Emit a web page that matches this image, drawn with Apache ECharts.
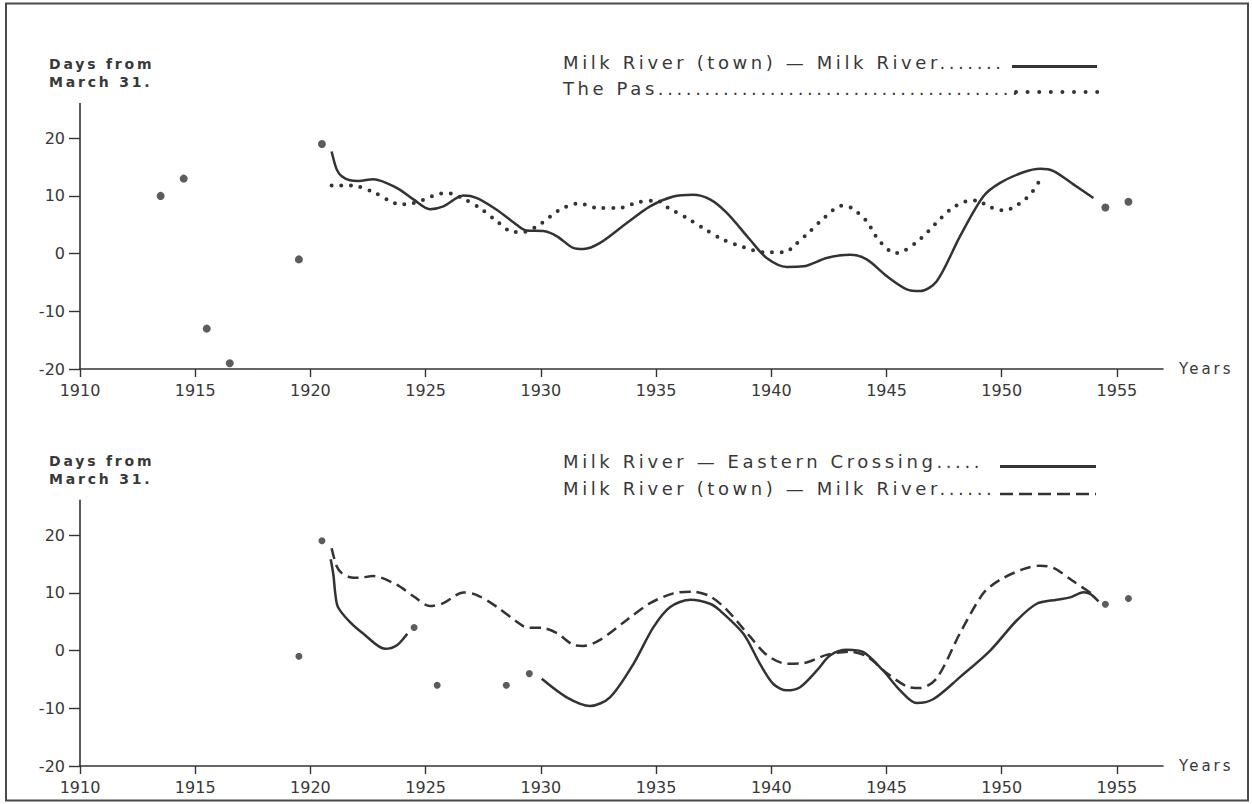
<!DOCTYPE html>
<html>
<head>
<meta charset="utf-8">
<script src="https://cdn.jsdelivr.net/npm/echarts@6.0.0/dist/echarts.min.js"></script>
<style>
html,body{margin:0;padding:0;background:#ffffff;}
#chart{width:1252px;height:804px;}
#chart svg text[style*="Verdana"]{letter-spacing:0.2em;}
</style>
</head>
<body>
<div id="chart"></div>
<script>
// ---- tick values ----
const xTickValues = [1910, 1915, 1920, 1925, 1930, 1935, 1940, 1945, 1950, 1955];
const yTickValues = [-20, -10, 0, 10, 20];

// ---- top panel: individual years (days from March 31) ----
const topYearPoints = [
  [1913.5, 10], [1914.5, 13], [1915.5, -13], [1916.5, -19],
  [1919.5, -1], [1920.5, 19], [1954.5, 8], [1955.5, 9]
];

// ---- Milk River (town) — Milk River (smoothed curve) ----
const milkTownCurve = [
  [1920.92, 17.7], [1921.14, 14.6], [1921.36, 13.4], [1921.72, 12.7], [1922.1, 12.6],
  [1922.73, 12.9], [1923.74, 11.4], [1924.47, 9.4], [1925.19, 7.7], [1925.77, 8.2],
  [1926.64, 10.05], [1927.2, 9.65], [1928.08, 7.6], [1928.95, 5.0], [1929.38, 4.0],
  [1930.1, 3.9], [1930.7, 3.0], [1931.4, 1.0], [1931.85, 0.8], [1932.57, 1.85],
  [1933.73, 5.3], [1934.74, 8.2], [1935.75, 9.9], [1936.6, 10.2], [1937.34, 9.4],
  [1938.07, 7.05], [1939.08, 2.4], [1939.8, -0.75], [1940.67, -2.3], [1941.4, -2.2],
  [1942.4, -0.75], [1943.42, -0.2], [1944.14, -1.0], [1945.01, -3.9], [1945.88, -6.2],
  [1946.46, -6.5], [1947.18, -4.8], [1948.19, 3.0], [1949.2, 9.9], [1949.93, 12.25],
  [1950.94, 14.1], [1951.67, 14.7], [1952.25, 14.3], [1953.11, 12.0], [1953.98, 9.65]
];

// ---- The Pas (smoothed curve) ----
const thePasCurve = [
  [1920.92, 11.8], [1921.79, 11.8], [1922.66, 10.8], [1923.45, 9.1], [1923.89, 8.5],
  [1924.39, 8.7], [1924.83, 9.2], [1925.7, 10.4], [1926.13, 10.4], [1926.57, 9.65],
  [1927.36, 7.9], [1928.0, 5.9], [1928.81, 3.76], [1929.24, 3.76], [1930.04, 5.3],
  [1930.76, 7.45], [1931.63, 8.7], [1932.5, 7.9], [1933.36, 7.9], [1934.23, 8.9],
  [1935.03, 9.2], [1935.53, 7.9], [1936.33, 6.2], [1937.13, 4.2], [1937.92, 2.4],
  [1938.79, 1.15], [1939.66, 0.23], [1940.6, 0.23], [1940.96, 1.27], [1941.68, 3.87],
  [1942.34, 6.36], [1943.06, 8.3], [1943.49, 7.9], [1944.14, 5.6], [1944.65, 2.4],
  [1945.37, 0.1], [1945.73, 0.4], [1946.46, 2.5], [1947.11, 5.1], [1947.76, 7.6],
  [1948.48, 9.1], [1948.99, 9.2], [1949.35, 8.3], [1950.15, 7.45], [1950.58, 8.2],
  [1951.0, 9.36], [1951.35, 10.8], [1951.6, 12.36]
];

// ---- bottom panel: individual years ----
const bottomYearPoints = [
  [1919.5, -1], [1920.5, 19], [1924.5, 4], [1925.5, -6],
  [1928.5, -6], [1929.5, -4], [1954.5, 8], [1955.5, 9]
];

// ---- Milk River — Eastern Crossing (two smoothed pieces) ----
const easternCrossingEarly = [
  [1920.88, 15.8], [1921.0, 13.0], [1921.08, 9.8], [1921.2, 7.5], [1921.72, 4.9],
  [1922.3, 2.9], [1923.24, 0.3], [1923.74, 0.87], [1924.2, 2.9]
];
const easternCrossingLate = [
  [1930.04, -4.9], [1931.12, -8.1], [1932.14, -9.6], [1933.0, -8.1], [1934.02, -2.3],
  [1934.88, 4.0], [1935.6, 7.5], [1936.5, 8.8], [1937.34, 8.1], [1937.78, 6.9],
  [1938.79, 2.9], [1939.51, -2.3], [1940.09, -5.8], [1940.67, -6.9], [1941.25, -6.35],
  [1941.97, -3.5], [1942.55, -0.87], [1943.28, 0.12], [1944.0, -0.29], [1944.86, -3.5],
  [1945.59, -6.9], [1946.31, -9.1], [1947.04, -8.4], [1948.19, -4.6], [1949.5, 0],
  [1950.65, 5.2], [1951.52, 8.1], [1952.39, 8.8], [1952.97, 9.2], [1953.55, 10.1],
  [1953.84, 9.8], [1954.2, 8.5]
];

// ---- texts ----
const yAxisTitle = 'Days from\nMarch 31.';
const xAxisTitle = 'Years';
const topLegend = ['Milk River (town) — Milk River.......', 'The Pas.......................................'];
const bottomLegend = ['Milk River — Eastern Crossing.....', 'Milk River (town) — Milk River......'];

const INK = '#333333';
const TEXT = '#383838';
const SPACED = "Verdana, 'DejaVu Sans'";
const PLAIN = "'DejaVu Sans'";

function makeX(gridIndex) {
  return {
    type: 'value', gridIndex, min: 1910, max: 1957, interval: 5,
    name: xAxisTitle, nameLocation: 'end', nameGap: 16,
    nameTextStyle: { fontFamily: SPACED, fontSize: 15, color: TEXT, verticalAlign: 'middle' },
    axisLine: { show: true, onZero: false, lineStyle: { color: INK, width: 1.6 } },
    axisTick: { show: true, inside: false, length: 8, customValues: xTickValues, lineStyle: { color: INK, width: 1.4 } },
    axisLabel: { customValues: xTickValues, margin: 13, fontFamily: PLAIN, fontSize: 16, color: TEXT,
      formatter: v => String(v) },
    splitLine: { show: false }, minorTick: { show: false }
  };
}
function makeY(gridIndex) {
  return {
    type: 'value', gridIndex, min: -20, max: 26, interval: 10,
    axisLine: { show: true, onZero: false, lineStyle: { color: INK, width: 1.6 } },
    axisTick: { show: true, inside: false, length: 11, customValues: yTickValues, lineStyle: { color: INK, width: 1.4 } },
    axisLabel: { customValues: yTickValues, margin: 15, fontFamily: PLAIN, fontSize: 16, color: TEXT,
      formatter: v => String(v) },
    splitLine: { show: false }
  };
}

const chart = echarts.init(document.getElementById('chart'), null, { renderer: 'svg' });
const option = {
  animation: false,
  backgroundColor: '#ffffff',
  grid: [
    { left: 80, top: 103.6, width: 1083, height: 265.4 },
    { left: 80, top: 500.4, width: 1083, height: 265.6 }
  ],
  xAxis: [makeX(0), makeX(1)],
  yAxis: [makeY(0), makeY(1)],
  series: [
    { type: 'scatter', xAxisIndex: 0, yAxisIndex: 0, data: topYearPoints, symbol: 'circle', symbolSize: 8, itemStyle: { color: INK } },
    { type: 'line', xAxisIndex: 0, yAxisIndex: 0, data: milkTownCurve, smooth: 0.3, showSymbol: false,
      lineStyle: { color: INK, width: 2.5 } },
    { type: 'line', xAxisIndex: 0, yAxisIndex: 0, data: thePasCurve, smooth: 0.3, showSymbol: false,
      lineStyle: { color: INK, width: 4, type: [0, 9.6], cap: 'round' } },
    { type: 'scatter', xAxisIndex: 1, yAxisIndex: 1, data: bottomYearPoints, symbol: 'circle', symbolSize: 7, itemStyle: { color: INK } },
    { type: 'line', xAxisIndex: 1, yAxisIndex: 1, data: milkTownCurve, smooth: 0.3, showSymbol: false,
      lineStyle: { color: INK, width: 2.5, type: [11, 6] } },
    { type: 'line', xAxisIndex: 1, yAxisIndex: 1, data: easternCrossingEarly, smooth: 0.3, showSymbol: false,
      lineStyle: { color: INK, width: 2.5 } },
    { type: 'line', xAxisIndex: 1, yAxisIndex: 1, data: easternCrossingLate, smooth: 0.3, showSymbol: false,
      lineStyle: { color: INK, width: 2.5 } }
  ],
  graphic: [
    { type: 'rect', shape: { x: 6, y: 3.5, width: 1242, height: 797 }, style: { fill: 'none', stroke: '#4a4a4a', lineWidth: 2 }, silent: true },
    { type: 'text', x: 49, y: 55, style: { text: yAxisTitle, fontFamily: SPACED, fontSize: 14, lineHeight: 18, fill: TEXT, fontWeight: 600 } },
    { type: 'text', x: 49, y: 452, style: { text: yAxisTitle, fontFamily: SPACED, fontSize: 14, lineHeight: 18, fill: TEXT, fontWeight: 600 } },
    { type: 'text', x: 563, y: 62, style: { text: topLegend[0], fontFamily: SPACED, fontSize: 18, fill: TEXT, verticalAlign: 'middle' } },
    { type: 'text', x: 563, y: 88, style: { text: topLegend[1], fontFamily: SPACED, fontSize: 18, fill: TEXT, verticalAlign: 'middle' } },
    { type: 'line', shape: { x1: 1012, y1: 66.5, x2: 1097, y2: 66.5 }, style: { stroke: INK, lineWidth: 3 } },
    { type: 'line', shape: { x1: 1016, y1: 92, x2: 1098, y2: 92 }, style: { stroke: INK, lineWidth: 4, lineDash: [0, 11.6], lineCap: 'round' } },
    { type: 'text', x: 563, y: 461, style: { text: bottomLegend[0], fontFamily: SPACED, fontSize: 18, fill: TEXT, verticalAlign: 'middle' } },
    { type: 'text', x: 563, y: 488, style: { text: bottomLegend[1], fontFamily: SPACED, fontSize: 18, fill: TEXT, verticalAlign: 'middle' } },
    { type: 'line', shape: { x1: 1000, y1: 466.5, x2: 1096, y2: 466.5 }, style: { stroke: INK, lineWidth: 3 } },
    { type: 'line', shape: { x1: 1000, y1: 494, x2: 1096, y2: 494 }, style: { stroke: INK, lineWidth: 2.5, lineDash: [13, 6] } }
  ]
};
chart.setOption(option);
</script>
</body>
</html>
